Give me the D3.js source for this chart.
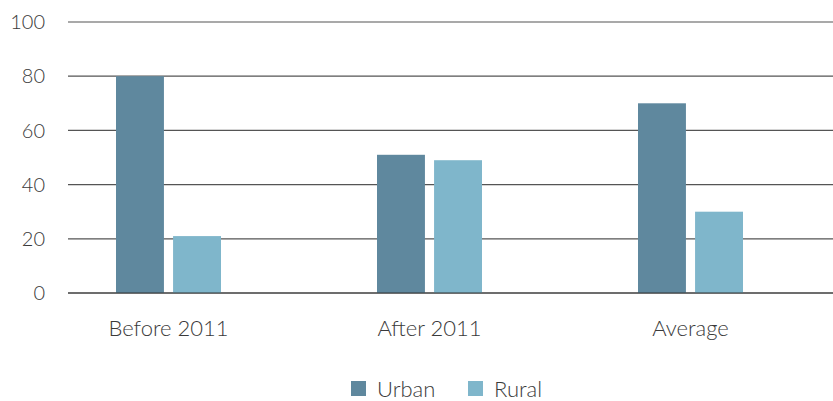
<!DOCTYPE html>
<html><head><meta charset="utf-8">
<script src="https://cdn.jsdelivr.net/npm/d3@7"></script>
<style>body{margin:0;background:#fff}svg{display:block}text{font-family:Lato,"Open Sans",sans-serif;font-weight:300;fill:#3a3a3a}</style>
</head><body>
<svg id="c" width="833" height="401"></svg>
<script>
const categories = ["Before 2011", "After 2011", "Average"];
const seriesNames = ["Urban", "Rural"];
const urban = [80, 51, 70];
const rural = [21, 49, 30];
const yTicks = [0, 20, 40, 60, 80, 100];
const colors = ["#5f889e", "#7fb6cb"];

const svg = d3.select("#c");
const y = d3.scaleLinear().domain([0, 100]).range([293, 22]);
const x0 = d3.scaleBand().domain(categories).range([38, 821]).paddingInner(0).paddingOuter(0);
const x1 = d3.scaleBand().domain(seriesNames).range([0, 105]).paddingInner(0.16);
const gOff = (x0.bandwidth() - 105) / 2;

svg.append("g").selectAll("line").data(yTicks).join("line")
  .attr("x1", 68).attr("x2", 833)
  .attr("y1", d => y(d)).attr("y2", d => y(d))
  .attr("stroke", "#555").attr("stroke-width", 1.2);

svg.append("g").selectAll("text").data(yTicks).join("text")
  .attr("x", 45).attr("y", d => y(d)).attr("dy", "0.36em")
  .attr("text-anchor", "end").attr("font-size", 20).text(d => d);

const data = categories.map((c, i) => ({c, vals: [urban[i], rural[i]]}));
const grp = svg.append("g").selectAll("g").data(data).join("g")
  .attr("transform", d => `translate(${x0(d.c) + gOff},0)`);
grp.selectAll("rect").data(d => d.vals.map((v, j) => ({s: seriesNames[j], v, j}))).join("rect")
  .attr("x", d => x1(d.s)).attr("width", x1.bandwidth())
  .attr("y", d => y(d.v)).attr("height", d => y(0) - y(d.v))
  .attr("fill", d => colors[d.j]);

svg.append("line").attr("x1", 68).attr("x2", 833).attr("y1", y(0)).attr("y2", y(0))
  .attr("stroke", "#333").attr("stroke-width", 1.2);

svg.append("g").selectAll("text").data(categories).join("text")
  .attr("x", d => x0(d) + x0.bandwidth() / 2).attr("y", 336)
  .attr("text-anchor", "middle").attr("font-size", 22).text(d => d);

const legX = [351, 468];
const leg = svg.append("g").selectAll("g").data(seriesNames).join("g")
  .attr("transform", (d, i) => `translate(${legX[i]},381)`);
leg.append("rect").attr("width", 15).attr("height", 15).attr("fill", (d, i) => colors[i]);
leg.append("text").attr("x", 26).attr("y", 15.5).attr("font-size", 22).text(d => d);
</script>
</body></html>
